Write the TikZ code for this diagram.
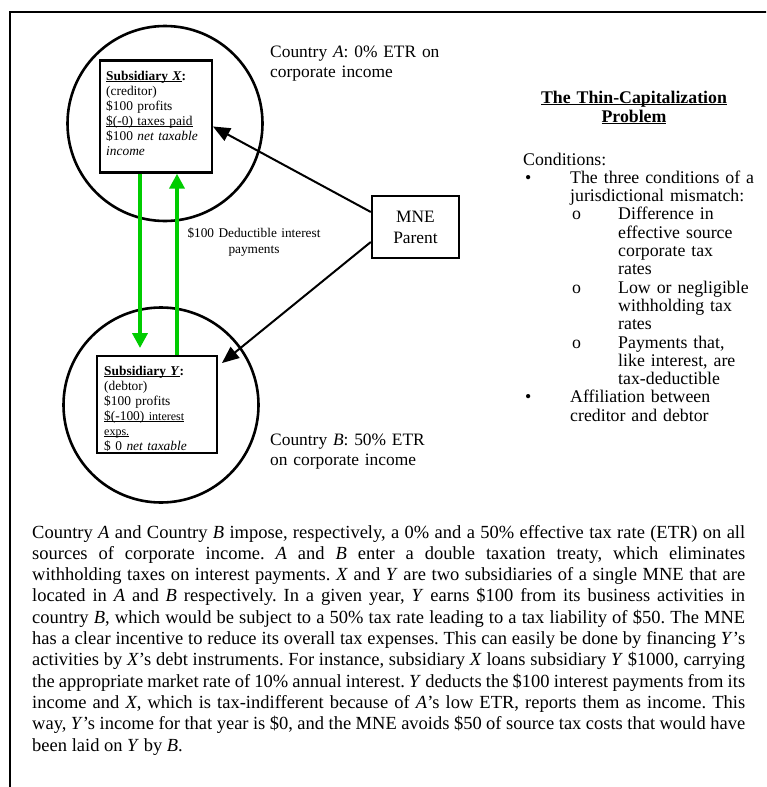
\documentclass[tikz,border=0pt]{standalone}
\usepackage{fontspec}
\setmainfont{Liberation Serif}
\usetikzlibrary{arrows.meta}
\definecolor{flowgreen}{RGB}{0,204,0}
\newcommand{\wordline}[1]{\leavevmode\setbox0\hbox{#1}\rlap{\rule[-1.6pt]{\wd0}{0.8pt}}\box0}

\begin{document}
\begin{tikzpicture}[x=1pt,y=-1pt]
	\tikzstyle{RING} = [circle, draw, line width=2.6pt, minimum size=195pt, inner sep=0pt]
	\tikzstyle{BOX} = [rectangle, draw, line width=2.4pt, inner sep=0pt]
	\tikzstyle{BOXTEXT} = [inner sep=0pt, anchor=base west, text width=104pt, align=left, font=\fontsize{13.4}{15}\selectfont]
	\tikzstyle{LABEL} = [inner sep=0pt, anchor=base west, text width=200pt, align=left, font=\fontsize{17.4}{20}\selectfont]
	\tikzstyle{LIST} = [inner sep=0pt, anchor=base west, text width=185pt, align=left, font=\fontsize{17.8}{18.3}\selectfont]
	\tikzstyle{ARR} = [line width=2pt, -{Triangle[length=17pt,width=14pt]}]
	\tikzstyle{GARR} = [line width=4pt, flowgreen, -{Triangle[length=15pt,width=15pt]}]

	\useasboundingbox (0,0) rectangle (766,787);
	\clip (0,0) rectangle (766,787);
	\draw[line width=2.2pt] (10,12) rectangle (790,810);

	\node[RING] (CIRX) at (165,123.5) {};
	\node[RING] (CIRY) at (161,405) {};
	\node[BOX, minimum width=111.5pt, minimum height=112pt] (SUBX) at (156,116.5) {};
	\node[BOX, minimum width=119.5pt, minimum height=96.5pt] (SUBY) at (157,404.5) {};
	\node[BOX, minimum width=87pt, minimum height=61.5pt, align=center, font=\fontsize{17.4}{21}\selectfont] (MNE) at (415.5,227) {MNE\\Parent};

	\node[BOXTEXT] (TXTX) at (106,80) {\wordline{\textbf{Subsidiary \textit{X}}}\textbf{:}\\(creditor)\\\$100 profits\\\wordline{\$(-0) taxes paid}\\\$100 \textit{net taxable}\\\textit{income}};
	\begin{scope}
		\clip ([shift={(1.2pt,-1.2pt)}]SUBY.north west) rectangle ([shift={(-1.2pt,1.2pt)}]SUBY.south east);
		\node[BOXTEXT] (TXTY) at (104,375) {\wordline{\textbf{Subsidiary \textit{Y}}}\textbf{:}\\(debtor)\\\$100 profits\\\wordline{\$(-100) {\fontsize{12}{15}\selectfont interest}}\\\wordline{\fontsize{12}{15}\selectfont exps.}\\\$ 0 \textit{net taxable}};
	\end{scope}

	\draw[ARR] ([yshift=15pt]MNE.west) -- ([yshift=-10pt]SUBX.east);
	\draw[ARR] ([yshift=-15pt]MNE.west) -- ([xshift=4pt,yshift=-8pt]SUBY.north east);
	\draw[GARR] ([xshift=-16pt]SUBX.south) -- ([xshift=-17pt,yshift=7pt]SUBY.north);
	\draw[GARR] ([xshift=20pt]SUBY.north) -- ([xshift=21pt]SUBX.south);

	\node[LABEL] (LBLA) at (270,57) {Country \textit{A}: 0\% ETR on\\corporate income};
	\node[LABEL] (LBLB) at (270,445) {Country \textit{B}: 50\% ETR\\on corporate income};
	\node[inner sep=0pt, anchor=base, text width=170pt, align=center, font=\fontsize{13.3}{16}\selectfont] (LBLPAY) at (254,237) {\$100 Deductible interest\\payments};

	\node[inner sep=0pt, anchor=base, text width=220pt, align=center, font=\fontsize{17.8}{19.5}\selectfont\bfseries] (TITLE) at (634,103) {\wordline{The Thin-Capitalization}\\\wordline{Problem}};
	\node[LIST] (COND) at (523,165) {Conditions:};
	\node[LIST] (B1) at (525,183.3) {\textbullet};
	\node[LIST] (B1T) at (570,183.3) {The three conditions of a\\jurisdictional mismatch:};
	\foreach \y [count=\i] in {219.9,293.1,348} \node[LIST] (S\i) at (572,\y) {o};
	\node[LIST] (S1T) at (618,219.9) {Difference in\\effective source\\corporate tax\\rates};
	\node[LIST] (S2T) at (618,293.1) {Low or negligible\\withholding tax\\rates};
	\node[LIST] (S3T) at (618,348) {Payments that,\\like interest, are\\tax-deductible};
	\node[LIST] (B2) at (525,402.9) {\textbullet};
	\node[LIST] (B2T) at (570,402.9) {Affiliation between\\creditor and debtor};

	\node[inner sep=0pt, anchor=base west, text width=713pt, align=justify, font=\fontsize{18.5}{21.3}\selectfont\frenchspacing] (PARA) at (32,538) {Country \textit{A} and Country \textit{B} impose, respectively, a 0\% and a 50\% effective tax rate (ETR) on all\linebreak
	sources of corporate income. \textit{A} and \textit{B} enter a double taxation treaty, which eliminates\linebreak
	withholding taxes on interest payments. \textit{X} and \textit{Y} are two subsidiaries of a single MNE that are\linebreak
	located in \textit{A} and \textit{B} respectively. In a given year, \textit{Y} earns \$100 from its business activities in\linebreak
	country \textit{B}, which would be subject to a 50\% tax rate leading to a tax liability of \$50. The MNE\linebreak
	has a clear incentive to reduce its overall tax expenses. This can easily be done by financing \textit{Y}'s\linebreak
	activities by \textit{X}'s debt instruments. For instance, subsidiary \textit{X} loans subsidiary \textit{Y} \$1000, carrying\linebreak
	the appropriate market rate of 10\% annual interest. \textit{Y} deducts the \$100 interest payments from its\linebreak
	income and \textit{X}, which is tax-indifferent because of \textit{A}'s low ETR, reports them as income. This\linebreak
	way, \textit{Y}'s income for that year is \$0, and the MNE avoids \$50 of source tax costs that would have\linebreak
	been laid on \textit{Y} by \textit{B}.};
\end{tikzpicture}
\end{document}
